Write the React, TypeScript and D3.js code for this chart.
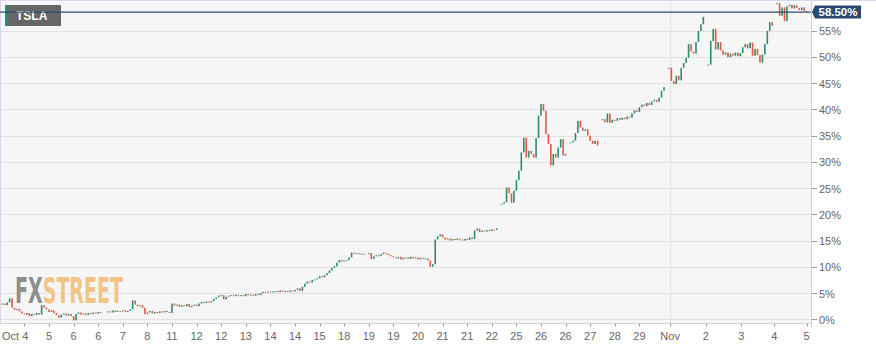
import React from "react";
import * as d3 from "d3";

// Hourly closes (% change), one per bar; null = session gap
const closes: (number | null)[] = [
  // 0-9
  2.8, 3.0, 2.7, 3.2, 4.0, 2.2, 1.8, 2.0, 1.5, 1.1,
  // 10-19
  0.9, 1.2, 0.6, 1.0, 0.8, 1.2, 0.9, 2.7, 2.2, 1.9,
  // 20-29
  1.4, 1.7, 1.2, 0.8, 0.3, 0.9, 1.1, 0.7, 1.0, 0.6,
  // 30-39
  -0.2, 1.0, 1.3, 0.9, 1.1, 0.8, 1.2, 1.0, 1.3, 1.1,
  // 40-49
  1.4, 1.2, null, null, 1.5, 1.3, 1.7, 1.4, 1.6, 1.5,
  // 50-59
  1.7, 1.4, 1.6, 1.9, 3.6, 2.8, 2.5, 2.7, 2.2, 1.0,
  // 60-69
  1.3, 1.6, 1.1, 1.4, 1.2, 1.5, 1.3, 1.6, 1.4, 1.2,
  // 70-79
  3.0, 2.6, 2.8, 2.4, 2.7, 2.5, 2.9, 2.3, 2.6, 2.8,
  // 80-89
  2.5, 3.0, 3.3, 3.1, 3.4, 3.2, 3.5, 3.9, 4.2, 4.5,
  // 90-99
  4.6, 3.8, 4.3, 4.5, 4.6, 4.4, 4.7, 4.5, 4.6, 4.4,
  // 100-109
  4.8, 4.6, 4.7, 4.5, 4.8, 4.6, 5.0, 5.2, 5.1, 5.3,
  // 110-119
  5.1, 5.3, 5.4, 5.2, 5.5, 5.3, 5.4, 5.2, 5.5, 5.3,
  // 120-129
  5.6, 5.9, 5.4, 6.2, 6.8, 7.2, 7.0, 7.5, 7.6, 7.8,
  // 130-139
  8.2, 8.0, 8.4, 8.8, 9.3, 9.8, 10.1, 10.8, 11.3, 11.0,
  // 140-149
  11.2, 11.3, 11.8, 12.7, 12.5, 12.6, 12.4, 12.5, 12.3, null,
  // 150-159
  12.6, 11.5, 12.0, 12.2, 12.1, 12.4, 12.7, 12.5, 12.2, 12.0,
  // 160-169
  11.8, 11.6, 11.9, 11.4, 11.7, 11.8, 11.5, 11.9, 11.6, 11.8,
  // 170-179
  11.4, 11.7, 11.5, 11.6, 11.2, 10.0, 10.5, 15.2, 15.8, 16.2,
  // 180-189
  15.6, 15.2, 15.4, 15.0, 15.3, 15.1, 15.4, 15.2, 15.0, 15.3,
  // 190-199
  15.1, 15.6, 15.3, 16.9, 17.3, 16.6, 16.9, 16.7, 17.0, 16.8,
  // 200-209
  17.1, 17.0, 17.3, null, 22.0, 22.3, 25.1, 24.0, 22.2, 24.5,
  // 210-219
  26.5, 28.3, 31.8, 34.6, 30.8, 32.1, 31.5, 30.8, 34.5, 38.8,
  // 220-229
  41.0, 39.7, 35.3, 33.4, 29.3, 31.5, 30.8, 32.7, 34.3, 31.2,
  // 230-239
  31.5, null, 33.7, 34.0, 35.5, 37.8, 36.5, 35.9, 36.2, 35.0,
  // 240-249
  34.0, 33.4, 34.0, 33.1, null, 38.1, 37.5, 39.2, 37.4, 38.0,
  // 250-259
  37.8, 38.3, 38.0, 38.4, 38.1, 38.6, 38.4, 39.2, 39.8, 39.5,
  // 260-269
  40.4, 40.9, 40.6, 41.2, 40.8, 41.5, 41.8, 41.4, 42.2, 43.5,
  // 270-279
  44.2, null, 47.9, 45.4, 44.8, 46.4, 45.5, 47.9, 48.8, 49.8,
  // 280-289
  52.4, 51.0, 50.6, 52.8, 54.9, 56.2, 57.6, null, 48.5, 53.0,
  // 290-299
  55.3, 51.4, 52.8, 51.2, 50.4, 50.8, 49.9, 50.6, 50.2, 50.8,
  // 300-309
  50.1, 50.7, 51.8, 52.4, 51.6, 52.7, 50.2, 51.5, 50.3, 48.9,
  // 310-319
  50.4, 52.4, 54.9, 56.6, 55.9, null, 60.2, 57.8, 59.4, 56.8,
  // 320-328
  59.6, 59.9, 59.2, 59.8, 59.3, 58.9, 59.4, 58.7, 58.5,
];

const xTickIndex = [
  10, 20, 30, 40, 50, 60, 70, 80, 90, 100, 110, 120, 130, 140, 150, 160, 170,
  180, 190, 200, 210, 220, 230, 240, 250, 260, 272.5, 287, 301.4, 314.8, 328,
];
const xTickLabels = [
  "Oct 4", "5", "6", "6", "7", "8", "11", "12", "12", "13", "14", "14", "15",
  "18", "19", "19", "20", "21", "21", "22", "25", "26", "26", "27", "28", "29",
  "Nov", "2", "3", "4", "5",
];
const yTicks = [0, 5, 10, 15, 20, 25, 30, 35, 40, 45, 50, 55];
const lastValue = 58.5;
const symbol = "TSLA";
const logoText = "FXSTREET";

const UP = "#2a8c70";
const DOWN = "#e4583f";
const FONT = "'Liberation Sans', Arial, sans-serif";
const LOGO_FONT = "'DejaVu Sans Condensed', 'DejaVu Sans', sans-serif";

export default function App() {
  const W = 876;
  const H = 349;
  const plotLeft = 0;
  const plotRight = 811;
  const plotTop = 1.5;
  const plotBottom = 323.5;

  const x = d3.scaleLinear().domain([0, 328]).range([-0.2, 806.68]);
  const y = d3.scaleLinear().domain([0, 55]).range([319.3, 30.5]);

  const candles = closes
    .map((c, i) => {
      if (c == null) return null;
      const prev = i > 0 ? closes[i - 1] : null;
      const o = prev == null ? c : prev;
      return { i, o, c };
    })
    .filter((d): d is { i: number; o: number; c: number } => d != null);

  const bw = 1.6;
  const ly = y(lastValue);

  return (
    <svg
      width={W}
      height={H}
      style={{ position: "absolute", left: 0, top: 0, background: "#fff" }}
      fontFamily={FONT}
    >
      <defs>
        <clipPath id="plotClip">
          <rect x={plotLeft + 1} y={plotTop} width={plotRight - plotLeft - 1} height={plotBottom - plotTop} />
        </clipPath>
        <linearGradient id="logoFill" gradientUnits="userSpaceOnUse" x1={15} x2={123} y1={0} y2={0}>
          <stop offset="0" stopColor="#8e8e8e" />
          <stop offset="0.255" stopColor="#8e8e8e" />
          <stop offset="0.255" stopColor="#f2c387" />
          <stop offset="1" stopColor="#f2c387" />
        </linearGradient>
      </defs>
      <rect x={0} y={0} width={W} height={H} fill="#ffffff" />
      <rect
        x={plotLeft}
        y={plotTop}
        width={plotRight - plotLeft}
        height={plotBottom - plotTop}
        fill="#f6f6f6"
      />
      {/* horizontal grid */}
      {yTicks.map((t) => (
        <line
          key={"g" + t}
          x1={plotLeft}
          x2={plotRight}
          y1={Math.round(y(t)) + 0.5}
          y2={Math.round(y(t)) + 0.5}
          stroke="#e2e2e2"
          strokeWidth={1}
        />
      ))}
      {/* Nov vertical grid */}
      <line
        x1={Math.round(x(272.5)) + 0.5}
        x2={Math.round(x(272.5)) + 0.5}
        y1={plotTop}
        y2={plotBottom}
        stroke="#e2e2e2"
      />
      {/* watermark */}
      <text
        x={15}
        y={303}
        fontFamily={LOGO_FONT}
        fontWeight="bold"
        fontSize={36}
        fill="url(#logoFill)"
        textLength={108}
        lengthAdjust="spacingAndGlyphs"
      >
        {logoText}
      </text>
      {/* candles */}
      <g clipPath="url(#plotClip)">
        {candles.map((d) => {
          const y1 = y(Math.max(d.o, d.c));
          const y2 = y(Math.min(d.o, d.c));
          const h = Math.max(1, y2 - y1);
          return (
            <rect
              key={d.i}
              x={x(d.i) - bw / 2}
              y={y1}
              width={bw}
              height={h}
              fill={d.c >= d.o ? UP : DOWN}
            />
          );
        })}
      </g>
      {/* borders */}
      <line x1={0} x2={W} y1={0.5} y2={0.5} stroke="#d3d8ee" />
      <line x1={0.5} x2={0.5} y1={0} y2={plotBottom} stroke="#d3d8ee" />
      <line x1={plotRight + 0.5} x2={plotRight + 0.5} y1={0} y2={plotBottom + 3} stroke="#cdd2e6" />
      <line x1={0} x2={plotRight} y1={plotBottom} y2={plotBottom} stroke="#cdd2e6" />
      {/* y axis */}
      {yTicks.map((t) => (
        <g key={"y" + t}>
          <line
            x1={plotRight + 1}
            x2={plotRight + 6}
            y1={Math.round(y(t)) + 0.5}
            y2={Math.round(y(t)) + 0.5}
            stroke="#999"
          />
          <text x={819} y={y(t) + 4.5} fontSize={11} fill="#666">
            {t + "%"}
          </text>
        </g>
      ))}
      {/* x axis */}
      {xTickIndex.map((t, k) => (
        <g key={"x" + k}>
          <line
            x1={Math.round(x(t)) + 0.5}
            x2={Math.round(x(t)) + 0.5}
            y1={plotBottom}
            y2={plotBottom + 3}
            stroke="#999"
          />
          <text
            x={k === 0 ? 2 : x(t)}
            y={339.5}
            fontSize={11}
            fill="#666"
            textAnchor={k === 0 ? "start" : "middle"}
          >
            {xTickLabels[k]}
          </text>
        </g>
      ))}
      {/* symbol label */}
      <rect x={5} y={5} width={56} height={21} fill="#666666" />
      <rect x={5} y={5} width={2.5} height={21} fill="#2e8b6e" />
      <text x={16} y={20} fontSize={12} fontWeight="bold" fill="#ffffff">
        {symbol}
      </text>
      {/* last value line */}
      <line x1={plotLeft} x2={plotRight} y1={ly} y2={ly} stroke="#2c4a6e" strokeWidth={1.3} />
      <path
        d={`M${plotRight + 1},${ly} L${plotRight + 4},${ly - 6.5} L${861},${ly - 6.5} L${861},${ly + 6.5} L${plotRight + 4},${ly + 6.5} Z`}
        fill="#2c4a6e"
      />
      <text x={838} y={ly + 4} fontSize={11.5} fontWeight="bold" fill="#ffffff" textAnchor="middle">
        {lastValue.toFixed(2) + "%"}
      </text>
    </svg>
  );
}
